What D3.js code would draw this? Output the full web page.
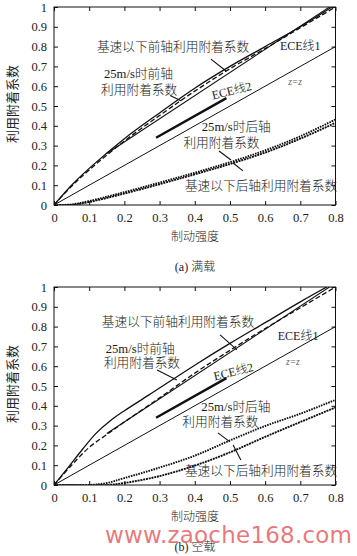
<!DOCTYPE html>
<html><head><meta charset="utf-8">
<script src="https://cdn.jsdelivr.net/npm/d3@7"></script>
<style>html,body{margin:0;padding:0;background:#fff;}svg{display:block;}</style>
</head><body>
<script>
// ---------- data ----------
const xTicks = [0,0.1,0.2,0.3,0.4,0.5,0.6,0.7,0.8];
const yTicks = [0,0.1,0.2,0.3,0.4,0.5,0.6,0.7,0.8,0.9,1];
const xTickLabels = ["0","0.1","0.2","0.3","0.4","0.5","0.6","0.7","0.8"];
const yTickLabels = ["0","0.1","0.2","0.3","0.4","0.5","0.6","0.7","0.8","0.9","1"];

// (a) full load
const fullFrontBaseX = [0,0.05,0.1,0.2,0.3,0.4,0.5,0.6,0.7,0.79];
const fullFrontBaseY = [0,0.10,0.185,0.335,0.465,0.59,0.70,0.80,0.90,1.0];
const fullFront25X   = [0,0.05,0.1,0.2,0.3,0.4,0.5,0.6,0.7,0.8];
const fullFront25Y   = [0,0.095,0.177,0.323,0.452,0.575,0.688,0.79,0.895,1.0];
const fullRearBaseX  = [0,0.05,0.1,0.2,0.3,0.4,0.5,0.6,0.7,0.8];
const fullRearBaseY  = [0,0,0.015,0.058,0.105,0.155,0.207,0.265,0.335,0.415];
const fullRear25X    = [0,0.05,0.1,0.2,0.3,0.4,0.5,0.6,0.7,0.8];
const fullRear25Y    = [0,0.003,0.02,0.065,0.113,0.163,0.216,0.276,0.347,0.432];

// (b) empty load
const emptyFrontBaseX = [0,0.04,0.08,0.12,0.16,0.2,0.27,0.4,0.5,0.6,0.7,0.775];
const emptyFrontBaseY = [0,0.088,0.178,0.262,0.325,0.375,0.455,0.605,0.715,0.82,0.925,1.0];
const emptyFront25X   = [0,0.05,0.1,0.15,0.2,0.3,0.4,0.5,0.6,0.7,0.8];
const emptyFront25Y   = [0,0.10,0.19,0.255,0.318,0.44,0.565,0.68,0.79,0.895,1.0];
const emptyRearBaseX  = [0,0.15,0.2,0.3,0.4,0.5,0.6,0.7,0.8];
const emptyRearBaseY  = [0,0,0.01,0.045,0.098,0.165,0.243,0.318,0.392];
const emptyRear25X    = [0,0.1,0.15,0.2,0.3,0.4,0.5,0.6,0.7,0.8];
const emptyRear25Y    = [0,0,0.01,0.035,0.088,0.148,0.225,0.298,0.36,0.43];

// regulation / reference lines
const ece1X = [0.15,0.8];
const ece1Y = [0.26,1.02];
const ece2X = [0.29,0.49];
const ece2Y = [0.34,0.54];
const zLineX = [0,0.8];
const zLineY = [0,0.8];

const xTitle = "制动强度";
const yTitle = "利用附着系数";

// ---------- drawing ----------
const W = 357, H = 556;
const svg = d3.select("body").append("svg").attr("width", W).attr("height", H);
svg.append("rect").attr("width", W).attr("height", H).attr("fill", "#fff");

const latin = "'Liberation Serif','Noto Sans CJK SC',serif";
const cjk = "'Liberation Serif','Noto Sans CJK SC',sans-serif";

function zip(xs, ys){ return xs.map((x,i)=>[x, ys[i]]); }

function panel(opts){
  const x = d3.scaleLinear().domain([0,0.8]).range([54, 335.5]);
  const y = d3.scaleLinear().domain([0,1]).range([opts.y0, opts.y0 - 198]);
  const g = svg.append("g");
  const clipId = "clip" + opts.id;
  svg.append("clipPath").attr("id", clipId).append("rect")
    .attr("x", x(0)).attr("y", y(1)).attr("width", x(0.8)-x(0)).attr("height", y(0)-y(1));

  const line = d3.line().x(d=>x(d[0])).y(d=>y(d[1])).curve(d3.curveCatmullRom.alpha(0.5));
  const lin = d3.line().x(d=>x(d[0])).y(d=>y(d[1]));
  const plot = g.append("g").attr("clip-path", `url(#${clipId})`);

  // z=z and ECE lines
  plot.append("path").attr("d", lin(zip(zLineX, zLineY))).attr("fill","none").attr("stroke","#111").attr("stroke-width",1);
  plot.append("path").attr("d", lin(zip(ece1X, ece1Y))).attr("fill","none").attr("stroke","#111").attr("stroke-width",1.1);
  plot.append("path").attr("d", lin(zip(ece2X, ece2Y))).attr("fill","none").attr("stroke","#111").attr("stroke-width",2.4);

  // front curves
  plot.append("path").attr("d", line(opts.frontBase)).attr("fill","none").attr("stroke","#111").attr("stroke-width",1.3);
  plot.append("path").attr("d", line(opts.front25)).attr("fill","none").attr("stroke","#111").attr("stroke-width",1.3).attr("stroke-dasharray","5,2.5");
  // rear curves
  plot.append("path").attr("d", line(opts.rearBase)).attr("fill","none").attr("stroke","#111").attr("stroke-width",1.9).attr("stroke-dasharray","2,0.8");
  plot.append("path").attr("d", line(opts.rear25)).attr("fill","none").attr("stroke","#111").attr("stroke-width",1.9).attr("stroke-dasharray","1.6,1");

  // frame
  g.append("rect").attr("x", x(0)).attr("y", y(1)).attr("width", x(0.8)-x(0)).attr("height", y(0)-y(1))
    .attr("fill","none").attr("stroke","#111").attr("stroke-width",1);

  // axes (inward ticks, all sides)
  const gx = g.append("g").attr("transform", `translate(0,${y(0)})`)
    .call(d3.axisBottom(x).tickValues(xTicks).tickFormat((d,i)=>xTickLabels[i]).tickSizeInner(-4).tickSizeOuter(0).tickPadding(8));
  const gxt = g.append("g").attr("transform", `translate(0,${y(1)})`)
    .call(d3.axisTop(x).tickValues(xTicks).tickFormat("").tickSizeInner(-4).tickSizeOuter(0));
  const gy = g.append("g").attr("transform", `translate(${x(0)},0)`)
    .call(d3.axisLeft(y).tickValues(yTicks).tickFormat((d,i)=>yTickLabels[i]).tickSizeInner(-4).tickSizeOuter(0).tickPadding(7));
  const gyr = g.append("g").attr("transform", `translate(${x(0.8)},0)`)
    .call(d3.axisRight(y).tickValues(yTicks).tickFormat("").tickSizeInner(-4).tickSizeOuter(0));
  [gx,gxt,gy,gyr].forEach(a=>{
    a.select(".domain").remove();
    a.selectAll("line").attr("stroke","#111");
    a.selectAll("text").attr("font-family", latin).attr("font-size", 12.5).attr("fill","#222");
  });

  // titles
  g.append("text").attr("x", 195).attr("y", opts.y0 + 33).attr("text-anchor","middle").attr("dominant-baseline","middle")
    .attr("font-family", cjk).attr("font-size", 12).attr("font-weight",300).attr("fill","#222").text(xTitle);
  g.append("text").attr("transform", `translate(14,${opts.y0 - 101}) rotate(-90)`).attr("text-anchor","middle").attr("dominant-baseline","middle")
    .attr("font-family", cjk).attr("font-size", 13).attr("fill","#222").text(yTitle);
  g.append("text").attr("x", 195).attr("y", opts.y0 + 63).attr("text-anchor","middle").attr("dominant-baseline","middle")
    .attr("font-family", cjk).attr("font-size", 12).attr("font-weight",300).attr("fill","#222").text(opts.caption);

  // annotations
  opts.labels.forEach(l=>{
    const t = g.append("text").attr("x", x(l.u)).attr("y", y(l.v))
      .attr("text-anchor", l.anchor || "start").attr("dominant-baseline","middle")
      .attr("font-family", cjk).attr("font-size", l.size || 12.7).attr("font-weight",300).attr("fill", l.fill || "#1a1a1a")
      .text(l.text);
    if (l.italic) t.attr("font-style","italic");
    if (l.rot) t.attr("transform", `rotate(${l.rot},${x(l.u)},${y(l.v)})`);
  });
  opts.arrows.forEach(a=>{
    g.append("line").attr("x1", x(a[0])).attr("y1", y(a[1])).attr("x2", x(a[2])).attr("y2", y(a[3]))
      .attr("stroke","#111").attr("stroke-width",1.1);
  });
}

panel({
  id: "a", y0: 205, caption: "(a) 满载",
  frontBase: zip(fullFrontBaseX, fullFrontBaseY),
  front25: zip(fullFront25X, fullFront25Y),
  rearBase: zip(fullRearBaseX, fullRearBaseY),
  rear25: zip(fullRear25X, fullRear25Y),
  labels: [
    {text:"基速以下前轴利用附着系数", u:0.122, v:0.793},
    {text:"25m/s时前轴", u:0.24, v:0.657, anchor:"middle"},
    {text:"利用附着系数", u:0.242, v:0.576, anchor:"middle"},
    {text:"ECE线1", u:0.642, v:0.798, size:12},
    {text:"ECE线2", u:0.506, v:0.571, anchor:"middle", size:12, rot:-14},
    {text:"z=z", u:0.685, v:0.616, anchor:"middle", size:9.5, italic:true, fill:"#666"},
    {text:"25m/s时后轴", u:0.518, v:0.389, anchor:"middle"},
    {text:"利用附着系数", u:0.476, v:0.308, anchor:"middle"},
    {text:"基速以下后轴利用附着系数", u:0.372, v:0.091}
  ],
  arrows: [
    [0.446,0.737,0.489,0.677],
    [0.33,0.553,0.362,0.525],
    [0.469,0.273,0.503,0.227],
    [0.509,0.212,0.537,0.172]
  ]
});

panel({
  id: "b", y0: 485, caption: "(b) 空载",
  frontBase: zip(emptyFrontBaseX, emptyFrontBaseY),
  front25: zip(emptyFront25X, emptyFront25Y),
  rearBase: zip(emptyRearBaseX, emptyRearBaseY),
  rear25: zip(emptyRear25X, emptyRear25Y),
  labels: [
    {text:"基速以下前轴利用附着系数", u:0.136, v:0.818},
    {text:"25m/s时前轴", u:0.245, v:0.682, anchor:"middle"},
    {text:"利用附着系数", u:0.25, v:0.611, anchor:"middle"},
    {text:"ECE线1", u:0.636, v:0.747, size:12},
    {text:"ECE线2", u:0.511, v:0.566, anchor:"middle", size:12, rot:-14},
    {text:"z=z", u:0.679, v:0.616, anchor:"middle", size:9.5, italic:true, fill:"#666"},
    {text:"25m/s时后轴", u:0.517, v:0.389, anchor:"middle"},
    {text:"利用附着系数", u:0.473, v:0.313, anchor:"middle"},
    {text:"基速以下后轴利用附着系数", u:0.372, v:0.066}
  ],
  arrows: [
    [0.472,0.758,0.52,0.682],
    [0.293,0.581,0.349,0.53],
    [0.466,0.263,0.5,0.218],
    [0.509,0.202,0.531,0.126]
  ]
});

// watermark (overlays the caption as in the reference)
svg.append("text").attr("x", 105).attr("y", 543).attr("font-family","'DejaVu Sans',sans-serif")
  .attr("font-size", 23).attr("fill","rgba(228,95,100,0.85)").attr("textLength", 247).text("www.zaoche168.com");
</script>
</body></html>
